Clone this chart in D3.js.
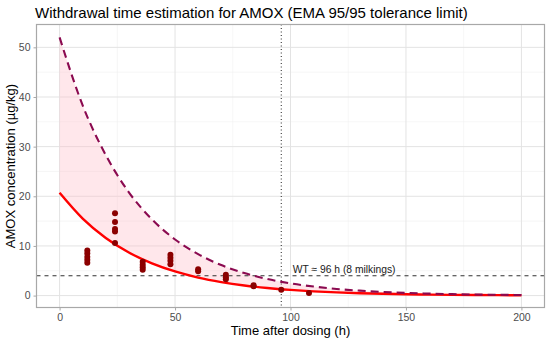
<!DOCTYPE html>
<html>
<head>
<meta charset="utf-8">
<script src="https://cdn.jsdelivr.net/npm/d3@7"></script>
<style>
  html, body { margin: 0; padding: 0; background: #fff; }
  svg { display: block; font-family: "Liberation Sans", Arial, sans-serif; }
</style>
</head>
<body>
<svg id="chart" width="550" height="342"></svg>
<script>
// ---- data ----
const curveTimes = [0, 10, 20, 30, 40, 50, 60, 70, 80, 90, 100, 110, 120, 130, 140, 150, 160, 170, 180, 190, 200];
const meanCurve  = [20.7, 15.5, 11.6, 8.67, 6.49, 4.86, 3.63, 2.72, 2.03, 1.52, 1.14, 0.85, 0.64, 0.48, 0.36, 0.27, 0.20, 0.15, 0.11, 0.084, 0.063];
const upperCurve = [52.0, 38.3, 28.3, 20.8, 15.35, 11.3, 8.34, 6.15, 4.53, 3.34, 2.46, 1.82, 1.34, 0.99, 0.73, 0.54, 0.40, 0.29, 0.21, 0.16, 0.12];
const obsTimes  = [12, 12, 12, 12, 12, 24, 24, 24, 24, 24, 36, 36, 36, 36, 48, 48, 48, 48, 60, 60, 72, 72, 72, 84, 84, 96, 108];
const obsValues = [9.1, 8.5, 7.8, 7.2, 6.6, 16.6, 14.8, 13.4, 12.9, 10.6, 6.8, 6.2, 5.7, 5.2, 8.2, 7.6, 7.0, 6.3, 5.3, 4.9, 4.2, 3.7, 3.3, 2.1, 1.9, 1.2, 0.5];
const mrl = 4;
const withdrawalTime = 96;
const xTicks = [0, 50, 100, 150, 200];
const yTicks = [0, 10, 20, 30, 40, 50];
const xMinor = [25, 75, 125, 175];
const yMinor = [5, 15, 25, 35, 45];
const titleText = "Withdrawal time estimation for AMOX (EMA 95/95 tolerance limit)";
const xLabel = "Time after dosing (h)";
const yLabel = "AMOX concentration (µg/kg)";
const wtLabel = "WT ≈ 96 h (8 milkings)";

// ---- layout ----
const panel = { left: 36.5, right: 544.5, top: 24.5, bottom: 307.5 };
const svg = d3.select("#chart");

const x = d3.scaleLinear().domain([-10, 210]).range([panel.left, panel.right]);
const y = d3.scaleLinear().domain([-2.4, 54.6]).range([panel.bottom, panel.top]);

const clipId = "panelClip";
svg.append("clipPath").attr("id", clipId)
  .append("rect")
  .attr("x", panel.left).attr("y", panel.top)
  .attr("width", panel.right - panel.left).attr("height", panel.bottom - panel.top);

// grid
const grid = svg.append("g");
grid.selectAll(".xmin").data(xMinor).join("line")
  .attr("x1", d => x(d)).attr("x2", d => x(d))
  .attr("y1", panel.top).attr("y2", panel.bottom)
  .attr("stroke", "#f0f0f0").attr("stroke-width", 0.6);
grid.selectAll(".ymin").data(yMinor).join("line")
  .attr("y1", d => y(d)).attr("y2", d => y(d))
  .attr("x1", panel.left).attr("x2", panel.right)
  .attr("stroke", "#f0f0f0").attr("stroke-width", 0.6);
grid.selectAll(".xmaj").data(xTicks).join("line")
  .attr("x1", d => x(d)).attr("x2", d => x(d))
  .attr("y1", panel.top).attr("y2", panel.bottom)
  .attr("stroke", "#e3e3e3").attr("stroke-width", 1);
grid.selectAll(".ymaj").data(yTicks).join("line")
  .attr("y1", d => y(d)).attr("y2", d => y(d))
  .attr("x1", panel.left).attr("x2", panel.right)
  .attr("stroke", "#e3e3e3").attr("stroke-width", 1);

const plot = svg.append("g").attr("clip-path", `url(#${clipId})`);

const curveRows = curveTimes.map((t, i) => ({ t, lo: meanCurve[i], hi: upperCurve[i] }));

// ribbon
plot.append("path").datum(curveRows)
  .attr("d", d3.area().x(d => x(d.t)).y0(d => y(d.lo)).y1(d => y(d.hi)).curve(d3.curveMonotoneX))
  .attr("fill", "#ffc0cb").attr("fill-opacity", 0.38);

// MRL line
plot.append("line")
  .attr("x1", panel.left).attr("x2", panel.right)
  .attr("y1", y(mrl)).attr("y2", y(mrl))
  .attr("stroke", "#333").attr("stroke-width", 1.1).attr("stroke-dasharray", "4,4");

// WT vertical
plot.append("line")
  .attr("x1", x(withdrawalTime)).attr("x2", x(withdrawalTime))
  .attr("y1", panel.top).attr("y2", panel.bottom)
  .attr("stroke", "#222").attr("stroke-width", 1).attr("stroke-dasharray", "1,2.5");

// mean curve
plot.append("path").datum(curveRows)
  .attr("d", d3.line().x(d => x(d.t)).y(d => y(d.lo)).curve(d3.curveMonotoneX))
  .attr("fill", "none").attr("stroke", "#ff0000").attr("stroke-width", 2.4);

// upper tolerance curve
plot.append("path").datum(curveRows)
  .attr("d", d3.line().x(d => x(d.t)).y(d => y(d.hi)).curve(d3.curveMonotoneX))
  .attr("fill", "none").attr("stroke", "#8b0a50").attr("stroke-width", 2.1)
  .attr("stroke-dasharray", "8,5");

// observations
plot.selectAll("circle").data(obsTimes.map((t, i) => ({ t, v: obsValues[i] }))).join("circle")
  .attr("cx", d => x(d.t)).attr("cy", d => y(d.v)).attr("r", 3)
  .attr("fill", "#8b0000");

// annotation
svg.append("text")
  .attr("x", x(withdrawalTime + 5)).attr("y", y(mrl) - 2.5)
  .attr("font-size", 10.3).attr("fill", "#1a1a1a")
  .text(wtLabel);

// panel border
svg.append("rect")
  .attr("x", panel.left).attr("y", panel.top)
  .attr("width", panel.right - panel.left).attr("height", panel.bottom - panel.top)
  .attr("fill", "none").attr("stroke", "#a8a8a8").attr("stroke-width", 1.2);

// axes
const xAxis = svg.append("g").attr("transform", `translate(0,${panel.bottom})`)
  .call(d3.axisBottom(x).tickValues(xTicks).tickSize(3).tickPadding(3).tickFormat(d3.format("d")));
const yAxis = svg.append("g").attr("transform", `translate(${panel.left},0)`)
  .call(d3.axisLeft(y).tickValues(yTicks).tickSize(3).tickPadding(3).tickFormat(d3.format("d")));
[xAxis, yAxis].forEach(g => {
  g.select(".domain").remove();
  g.selectAll(".tick line").attr("stroke", "#a8a8a8").attr("stroke-width", 1);
  g.selectAll(".tick text").attr("fill", "#4d4d4d").attr("font-size", 10.5)
    .attr("font-family", "'Liberation Sans', Arial, sans-serif");
});

// titles
svg.append("text").attr("x", 35).attr("y", 17.5)
  .attr("font-size", 15).attr("fill", "#000").text(titleText);
svg.append("text").attr("x", (panel.left + panel.right) / 2).attr("y", 334.5)
  .attr("text-anchor", "middle").attr("font-size", 13).attr("fill", "#000").text(xLabel);
svg.append("text")
  .attr("transform", `translate(15,${(panel.top + panel.bottom) / 2}) rotate(-90)`)
  .attr("text-anchor", "middle").attr("font-size", 13).attr("fill", "#000").text(yLabel);
</script>
</body>
</html>
